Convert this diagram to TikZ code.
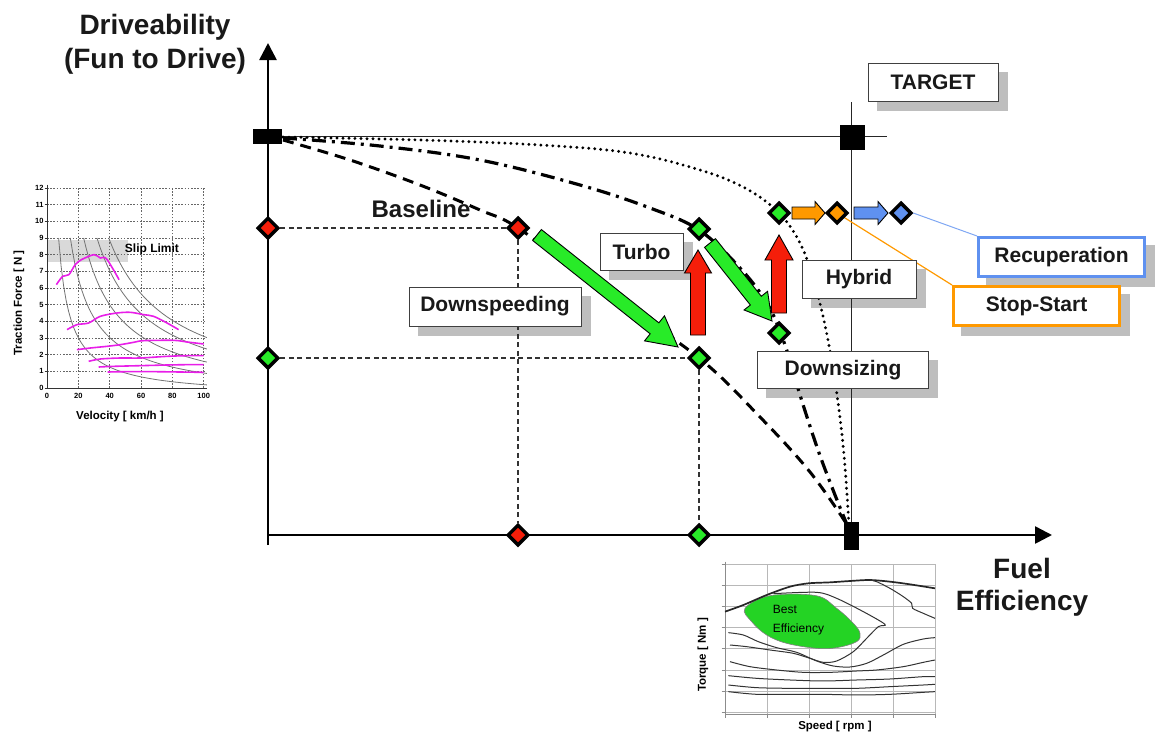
\documentclass[tikz,border=0pt]{standalone}
\usepackage{fontspec}
\setmainfont{Liberation Sans}
\usetikzlibrary{shapes.geometric,arrows.meta,calc}
\definecolor{cred}{RGB}{245,30,10}
\definecolor{cgreen}{RGB}{40,235,40}
\definecolor{corange}{RGB}{255,153,0}
\definecolor{cblue}{RGB}{95,145,240}
\definecolor{cmag}{RGB}{232,30,232}
\definecolor{shadowc}{RGB}{190,190,190}
\pgfdeclarelayer{shadow}
\pgfdeclarelayer{back}
\pgfdeclarelayer{mid}
\pgfsetlayers{shadow,back,mid,main}
\newcommand{\blkarrow}[6]{% from, to, half shaft, half head, head length, colour
  \coordinate (ba@h) at ($(#2)!#5!(#1)$);
  \filldraw[fill=#6, draw=black, line width=0.9pt, line join=miter]
    ($(#1)!#3!90:(#2)$) -- ($(ba@h)!#3!90:(#2)$) -- ($(ba@h)!#4!90:(#2)$) -- (#2)
    -- ($(ba@h)!#4!-90:(#2)$) -- ($(ba@h)!#3!-90:(#2)$) -- ($(#1)!#3!-90:(#2)$) -- cycle;
}
\tikzset{
  lblbox/.style={draw=black!75, line width=1pt, fill=white, text=black!90,
    font=\fontsize{21}{24}\selectfont\bfseries, inner sep=0pt},
  dia/.style={diamond, draw=black, line width=3.5pt, minimum width=21, minimum height=21, inner sep=0pt},
  sq/.style={fill=black, draw=none, inner sep=0pt},
  mainaxis/.style={line width=2.6pt, -{Triangle[width=17pt,length=17pt]}},
  thinl/.style={line width=1.5pt, black!85},
  guide/.style={line width=1.1pt, black!80, dash pattern=on 5pt off 3.5pt},
  basecurve/.style={line width=3pt, dash pattern=on 11pt off 7pt},
  dashdot/.style={line width=3.2pt, dash pattern=on 14pt off 6pt on 3pt off 6pt},
  dotcurve/.style={line width=3.2pt, line cap=round, dash pattern=on 0pt off 6pt},
  grid1/.style={black!60, line width=0.7pt, dash pattern=on 1.6pt off 1.6pt},
  ticklbl/.style={font=\fontsize{7.5}{8}\selectfont\bfseries, inner sep=1pt},
  gcurve/.style={black!55, line width=0.8pt},
  mcurve/.style={cmag, line width=1.6pt},
  egrid/.style={black!28, line width=0.8pt},
  econt/.style={black!80, line width=1pt},
  small/.style={font=\fontsize{11.5}{13}\selectfont\bfseries, inner sep=0pt}
}
\begin{document}
\begin{tikzpicture}[x=1pt,y=-1pt]
\path[use as bounding box] (0,0) rectangle (1156,734);

% ---------- axis titles
\node[align=center, font=\fontsize{28}{34}\selectfont\bfseries, text=black!90] (ytitle) at (155,44) {Driveability\\(Fun to Drive)};
\node[align=center, font=\fontsize{28}{32}\selectfont\bfseries, text=black!90] (xtitle) at (1022,587) {Fuel\\Efficiency};

% ---------- labels (boxes)
\node[lblbox, minimum width=130, minimum height=38] (target) at (933,82) {TARGET};
\node[lblbox, minimum width=83, minimum height=37] (turbo) at (641.5,251.5) {Turbo};
\node[lblbox, minimum width=172, minimum height=39] (dspeed) at (495,306.5) {Downspeeding};
\node[lblbox, minimum width=114, minimum height=38] (hybrid) at (859,279) {Hybrid};
\node[lblbox, minimum width=171, minimum height=37] (dsize) at (843,370) {Downsizing};
\node[lblbox, draw=cblue, line width=3pt, minimum width=166, minimum height=39] (recup) at (1061.5,257) {Recuperation};
\node[lblbox, draw=corange, line width=3pt, minimum width=166, minimum height=39] (stst) at (1036.5,306) {Stop-Start};
\node[font=\fontsize{24}{26}\selectfont\bfseries, text=black!90] (baseline) at (421,209) {Baseline};

\begin{pgfonlayer}{shadow}
\foreach \b in {target,turbo,dspeed,hybrid,dsize,recup,stst}
  \fill[shadowc] ([shift={(9,9)}]\b.north west) rectangle ([shift={(9,9)}]\b.south east);
\end{pgfonlayer}

% ---------- diamonds
\node[dia, fill=cred] (dyr) at (268,228) {};
\node[dia, fill=cgreen] (dyg) at (268,358) {};
\node[dia, fill=cred] (dbr) at (518,228) {};
\node[dia, fill=cgreen] (dtu) at (699,229) {};
\node[dia, fill=cgreen] (dds) at (699,358) {};
\node[dia, fill=cgreen] (ddz) at (779,333) {};
\node[dia, fill=cgreen] (dhy) at (779,213) {};
\node[dia, fill=corange] (dor) at (837,213) {};
\node[dia, fill=cblue] (dbl) at (901,213) {};
\node[dia, fill=cred] (dxr) at (518,535) {};
\node[dia, fill=cgreen] (dxg) at (699,535) {};

% ---------- squares
\node[sq, minimum width=29, minimum height=15] (s0) at (267.5,136.5) {};
\node[sq, minimum width=25, minimum height=25] (sT) at (852,137) {};
\node[sq, minimum width=15, minimum height=28] (sB) at (851.5,536) {};

% ---------- lines, curves
\coordinate (yBot) at (268,545);
\coordinate (yTop) at (268,43);
\coordinate (O) at (268,535);
\coordinate (xEnd) at (1052,535);
\coordinate (tlE) at (887,136.5);
\coordinate (vT) at (851.5,102);
\begin{pgfonlayer}{back}
\draw[mainaxis] (yBot) -- (yTop);
\draw[mainaxis] (O) -- (xEnd);
\draw[thinl] (s0.center) -- (tlE);
\draw[thinl] (vT) -- (sB.center);
\draw[guide] (dyr) -- (dbr);
\draw[guide] (dbr) -- (dxr);
\draw[guide] (dyg) -- (dds);
\draw[guide] (dds) -- (dxg);
\draw[basecurve] plot[smooth, tension=0.6] coordinates {(283,140) (350,160) (420,185) (480,210) (518,228) (600,288) (699,358) (760,417) (810,472) (846,523)};
\draw[dashdot] plot[smooth, tension=0.6] coordinates {(283,138) (380,146) (480,160) (580,185) (650,208) (699,230) (740,268) (768,305) (785,345) (800,395) (818,450) (835,495) (848,527)};
\draw[dotcurve] plot[smooth, tension=0.6] coordinates {(283,137) (420,140) (540,145) (630,153) (700,170) (745,188) (778,212) (800,243) (815,285) (827,335) (837,395) (844,455) (849,525)};
\draw[cblue!80, line width=1pt] (dbl.east) -- (recup.north west);
\draw[corange, line width=1.2pt] (dor.center) -- (stst.north west);
\end{pgfonlayer}

% ---------- block arrows
\coordinate (g1s) at (537,235); \coordinate (g1e) at (678,347);
\coordinate (g2s) at (710,243); \coordinate (g2e) at (772,321);
\coordinate (r1s) at (698,335); \coordinate (r1e) at (698,250);
\coordinate (r2s) at (779,313); \coordinate (r2e) at (779,235);
\coordinate (o1s) at (792,213); \coordinate (o1e) at (825,213);
\coordinate (b1s) at (854,213); \coordinate (b1e) at (888,213);
\begin{pgfonlayer}{mid}
\blkarrow{g1s}{g1e}{7pt}{16pt}{30pt}{cgreen}
\blkarrow{g2s}{g2e}{7pt}{15pt}{26pt}{cgreen}
\blkarrow{r1s}{r1e}{7.5pt}{13.5pt}{23pt}{cred}
\blkarrow{r2s}{r2e}{7.5pt}{14pt}{25pt}{cred}
\blkarrow{o1s}{o1e}{6pt}{11.5pt}{10pt}{corange}
\blkarrow{b1s}{b1e}{6pt}{11.5pt}{10pt}{cblue}
\end{pgfonlayer}

% ---------- left inset chart
\begin{scope}[xshift=47pt,yshift=-388pt,x=1.567pt,y=16.67pt]
  \fill[black!15] (0,7.55) rectangle (52,8.9);
  \foreach \f in {1,...,12} \draw[grid1] (0,\f) -- (102,\f);
  \foreach \v in {20,40,...,100} \draw[grid1] (\v,0) -- (\v,12);
  \draw[line width=1pt, black!80] (0,12.2) -- (0,0) -- (102,0);
  \foreach \f in {0,...,12} {\draw[black!80] (-1.5,\f) -- (0,\f); \node[ticklbl, anchor=east] (yl\f) at (-1.5,\f) {\f};}
  \foreach \v in {0,20,...,100} \node[ticklbl, anchor=north] (xl\v) at (\v,-0.25) {\v};
  \draw[gcurve] plot[domain=7.4:102, samples=60] (\x,{70.3/\x-0.503});
  \draw[gcurve] plot[domain=14.9:102, samples=60] (\x,{141.8/\x-0.518});
  \draw[gcurve] plot[domain=23.4:102, samples=60] (\x,{226/\x-0.66});
  \draw[gcurve] plot[domain=31.9:102, samples=60] (\x,{309.1/\x-0.691});
  \draw[gcurve] plot[domain=39.4:102, samples=60] (\x,{383.6/\x-0.736});
  \draw[mcurve] plot[smooth] coordinates {(6,6.2) (10,6.7) (14,6.8) (18,7.4) (22,7.7) (30,8.0) (34,7.8) (38,7.75) (46,6.5)};
  \draw[mcurve] plot[smooth] coordinates {(12.8,3.5) (19.1,3.8) (26.6,3.9) (34,4.3) (44.7,4.5) (53.2,4.54) (61.7,4.4) (68,4.3) (76.6,3.9) (84,3.5)};
  \draw[mcurve] plot[smooth] coordinates {(19.1,2.3) (27.7,2.4) (38.3,2.5) (46.8,2.6) (55.3,2.74) (61.7,2.84) (80.9,2.86) (89.4,2.76) (100,2.64)};
  \draw[mcurve] plot[smooth] coordinates {(26.6,1.6) (34,1.74) (46.8,1.8) (59.6,1.8) (76.6,1.9) (89.4,1.94) (100,1.94)};
  \draw[mcurve] plot[smooth] coordinates {(33,1.26) (42.6,1.3) (59.6,1.34) (76.6,1.38) (89.4,1.4) (100,1.4)};
  \draw[mcurve] plot[smooth] coordinates {(38.7,0.96) (51,0.98) (68,0.98) (85,0.96) (100,0.94)};
  \node[small, font=\fontsize{12}{13}\selectfont\bfseries] (slip) at (67,8.3) {Slip Limit};
\end{scope}
\node[small, rotate=90] (tforce) at (19,303) {Traction Force [ N ]};
\node[small] (veloc) at (120,417) {Velocity [ km/h ]};

% ---------- bottom inset chart
\begin{scope}[xshift=690pt,yshift=-555pt,x=0.3333pt,y=-0.3333pt]
  \foreach \k in {1,...,5} \draw[egrid] ({105+126*\k},27) -- ({105+126*\k},478);
  \foreach \k in {1,...,7} \draw[egrid] (105,{472-63.57*\k}) -- (735,{472-63.57*\k});
  \draw[egrid] (105,472) -- (735,472);
  \draw[black!45, line width=1pt] (105,20) -- (105,478) -- (735,478);
  \foreach \k in {0,...,7} \draw[black!45, line width=0.8pt] (95,{472-63.57*\k}) -- (105,{472-63.57*\k});
  \foreach \k in {0,...,5} \draw[black!45, line width=0.8pt] ({105+126*\k},478) -- ({105+126*\k},488);
  \filldraw[fill=cgreen!90!black, draw=black!50, line width=0.6pt] plot[smooth cycle, tension=0.6] coordinates {(165,160) (240,122) (378,122) (440,160) (490,205) (510,235) (500,260) (440,278) (380,280) (290,265) (230,240) (185,200)};
  \draw[black!85, line width=1.7pt] plot[smooth] coordinates {(105,170) (160,150) (230,120) (300,95) (355,85) (420,82) (480,78) (540,75) (600,80) (660,88) (735,100)};
  \draw[econt] plot[smooth] coordinates {(540,75) (560,80) (600,100) (640,125) (665,145) (668,160) (700,175) (735,190)};
  \draw[econt] plot[smooth] coordinates {(250,116) (380,112) (440,130) (520,170) (585,208) (565,215) (530,250) (490,290) (440,318) (400,322) (360,310) (310,295) (240,285) (170,275) (120,270)};
  \draw[econt] plot[smooth] coordinates {(115,233) (160,240) (205,260) (260,278) (320,292) (380,318) (430,333) (480,336) (530,325) (580,300) (640,268) (700,252) (735,248)};
  \draw[econt] plot[smooth] coordinates {(120,320) (180,335) (260,345) (340,352) (420,352) (500,348) (560,345) (640,335) (700,322) (735,315)};
  \draw[econt] plot[smooth] coordinates {(115,362) (200,370) (300,375) (400,378) (500,375) (600,372) (700,365) (735,365)};
  \draw[econt] plot[smooth] coordinates {(115,390) (200,398) (300,400) (400,400) (500,400) (600,395) (700,390) (735,388)};
  \draw[econt] plot[smooth] coordinates {(115,410) (200,418) (300,418) (400,418) (500,420) (600,418) (700,412) (735,410)};
  \node[anchor=west, font=\fontsize{12}{13}\selectfont, inner sep=0pt] (best) at (248,162) {Best};
  \node[anchor=west, font=\fontsize{12}{13}\selectfont, inner sep=0pt] (beff) at (248,222) {Efficiency};
\end{scope}
\node[small, rotate=90] (torque) at (703,655) {Torque [ Nm ]};
\node[small] (speed) at (835,727) {Speed [ rpm ]};
\end{tikzpicture}
\end{document}
